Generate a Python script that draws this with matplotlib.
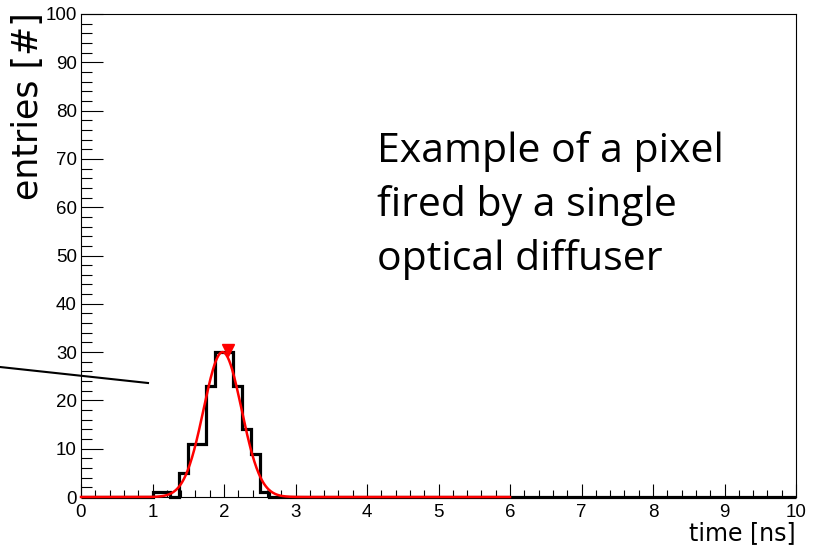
import numpy as np
import matplotlib
matplotlib.use("Agg")
import matplotlib.pyplot as plt
from matplotlib.ticker import MultipleLocator
from matplotlib.lines import Line2D

# time histogram of one pixel, 0.125 ns bins over 0-10 ns
bin_width = 0.125
t_min, t_max = 0.0, 10.0
first_filled = 1.0          # left edge of first non-empty bin [ns]
filled_counts = [1, 1, 0, 5, 11, 11, 23, 30, 30, 23, 14, 9, 1]

# gaussian fit result, drawn over 0-6 ns
fit_amp = 30.0
fit_mean = 1.98
fit_sigma = 0.265
fit_range = (0.0, 6.0)

edges = np.arange(t_min, t_max + bin_width / 2, bin_width)
counts = np.zeros(len(edges) - 1)
i0 = int(round((first_filled - t_min) / bin_width))
counts[i0:i0 + len(filled_counts)] = filled_counts
centers = 0.5 * (edges[:-1] + edges[1:])
peak_bin = len(counts) - 1 - int(np.argmax(counts[::-1]))

fig = plt.figure(figsize=(8.18, 5.54), dpi=100)
ax = fig.add_axes([81 / 818, 1 - 497 / 554, (796 - 81) / 818, (497 - 14) / 554])

ax.stairs(counts, edges, color="black", lw=2.3, clip_on=False, zorder=3)

tf = np.linspace(fit_range[0], fit_range[1], 600)
ax.plot(tf, fit_amp * np.exp(-0.5 * ((tf - fit_mean) / fit_sigma) ** 2),
        color="red", lw=1.8, clip_on=False, zorder=4)
ax.plot(centers[peak_bin], counts[peak_bin] + 0.4, marker="v", color="red",
        ms=8, clip_on=False, zorder=5)

ax.set_xlim(t_min, t_max)
ax.set_ylim(0, 100)
ax.xaxis.set_major_locator(MultipleLocator(1))
ax.xaxis.set_minor_locator(MultipleLocator(0.2))
ax.yaxis.set_major_locator(MultipleLocator(10))
ax.yaxis.set_minor_locator(MultipleLocator(2))
ax.tick_params(axis="x", which="major", direction="in", length=9.5, width=0.8,
               labelsize=13.5, pad=5)
ax.tick_params(axis="x", which="minor", direction="in", length=5, width=0.8)
ax.tick_params(axis="y", which="major", direction="in", length=16, width=0.8,
               labelsize=13.5, pad=3)
ax.tick_params(axis="y", which="minor", direction="in", length=8, width=0.8)
for lab in ax.get_xticklabels() + ax.get_yticklabels():
    lab.set_family("Liberation Sans")
for s in ax.spines.values():
    s.set_linewidth(0.8)

ax.set_xlabel("time [ns]", family="DejaVu Sans", fontsize=17)
ax.xaxis.set_label_coords(1.0, -0.05)
ax.xaxis.label.set_ha("right")
ax.set_ylabel("entries [#]", family="DejaVu Sans", fontsize=25)
ax.yaxis.set_label_coords(-0.05, 1.003)
ax.yaxis.label.set_ha("right")

ax.text(4.14, 75.7, "Example of a pixel\nfired by a single\noptical diffuser",
        family="Open Sans", fontsize=29.5, va="top", ha="left", linespacing=1.42)

# pointer line coming in from the left margin
fig.add_artist(Line2D([0.0, 148 / 818], [1 - 367 / 554, 1 - 383 / 554],
                      color="black", lw=1.5))

fig.savefig("out.png", dpi=100)
